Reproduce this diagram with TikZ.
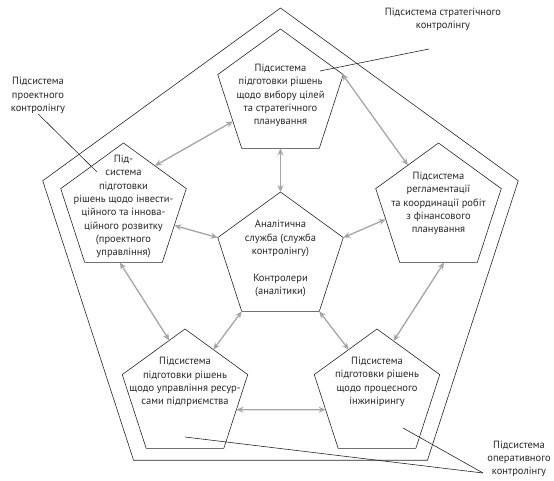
\documentclass[tikz,border=0pt]{standalone}
\usepackage{fontspec}
\setmainfont{PT Sans}
\usepackage{tikz}
\usetikzlibrary{shapes.geometric, arrows.meta, positioning}

\begin{document}
\begin{tikzpicture}[
    x=1pt, y=-1pt,
    penta/.style={regular polygon, regular polygon sides=5, draw=black!85, line width=0.6pt, minimum size=132pt, inner sep=0pt, outer sep=0pt},
    txt/.style={align=center, font=\fontsize{10.5}{13.3}\selectfont, text=black!85, inner sep=0pt},
    link/.style={draw=black!35, line width=1.3pt, {Stealth[length=7pt,width=6pt]}-{Stealth[length=7pt,width=6pt]}},
    lead/.style={draw=black!85, line width=0.6pt}
]
\useasboundingbox (0,0) rectangle (554,481);

% Outer frame
\node (frame) [penta, minimum size=500pt] at (280.5,258) {};

% Subsystems
\node (ctrl) [penta] at (280.5,258) {};
\node (strat) [penta] at (280.5,95) {};
\node (proj) [penta] at (123.5,209) {};
\node (fin) [penta] at (438.5,209) {};
\node (res) [penta] at (185,395) {};
\node (proc) [penta] at (377,395) {};

% Texts
\node (ctrlT) [txt] at (280.5,258.5) {Аналітична\\служба (служба\\контролінгу)\\[13.3pt]Контролери\\(аналітики)};
\node (stratT) [txt] at (280.5,95.5) {Підсистема\\підготовки рішень\\щодо вибору цілей\\та стратегічного\\планування};
\node (projT) [txt] at (123.5,206.5) {Під-\\система\\підготовки\\рішень щодо інвести-\\ційного та іннова-\\ційного розвитку\\(проектного\\управління)};
\node (finT) [txt] at (438.5,203.5) {Підсистема\\регламентації\\та координації робіт\\з фінансового\\планування};
\node (resT) [txt] at (185,382) {Підсистема\\підготовки рішень\\щодо управління ресур-\\сами підприємства};
\node (procT) [txt] at (377,382) {Підсистема\\підготовки рішень\\щодо процесного\\інжинірингу};

% Outside labels
\node (stratLbl) [txt] at (443,19.5) {Підсистема стратегічного\\контролінгу};
\node (projLbl) [txt] at (38,95.5) {Підсистема\\проектного\\контролінгу};
\node (operLbl) [txt] at (519,459) {Підсистема\\оперативного\\контролінгу};

% Links
\draw [link] (proj.54) -- (strat.209);
\draw [link] (strat.19) -- (fin.125);
\draw [link] (strat.south) -- (ctrl.north);
\draw [link] (proj.342) -- (ctrl.corner 2);
\draw [link] (ctrl.corner 5) -- (fin.191);
\draw [link] (proj.266) -- (res.106);
\draw [link] (fin.276) -- (proc.73);
\draw [link] (ctrl.corner 3) -- (res.58);
\draw [link] (ctrl.corner 4) -- (proc.122);
\draw [link] (res.344) -- (proc.196);

% Leaders
\coordinate (stratPin) at (320,71);
\coordinate (stratEnd) at (429,49);
\coordinate (projPin) at (97,172);
\coordinate (resPin) at (185,437);
\coordinate (procPin) at (403,428);
\coordinate (operEnd) at (483,473);
\draw [lead] (stratPin) -- (stratEnd);
\draw [lead] (projLbl.south) -- (projPin);
\draw [lead] (resPin) -- (operEnd);
\draw [lead] (procPin) -- (operEnd);

\end{tikzpicture}
\end{document}
